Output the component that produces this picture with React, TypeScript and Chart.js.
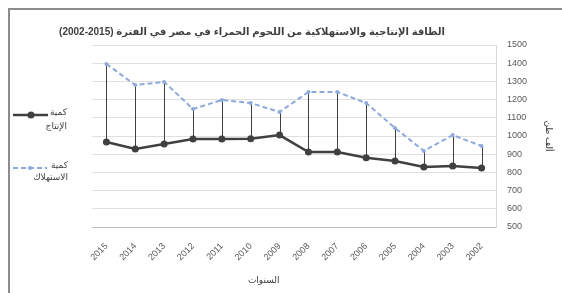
import React, { useEffect, useRef } from "react";
import { Chart, registerables } from "chart.js";

Chart.register(...registerables);

const years = ["2015", "2014", "2013", "2012", "2011", "2010", "2009", "2008", "2007", "2006", "2005", "2004", "2003", "2002"];
const production = [967, 929, 956, 983, 983, 985, 1005, 912, 912, 880, 863, 830, 835, 824];
const consumption = [1396, 1280, 1297, 1148, 1198, 1181, 1132, 1242, 1242, 1181, 1044, 918, 1005, 945];

const titleText = "الطاقة الإنتاجية والاستهلاكية من اللحوم الحمراء في مصر في الفترة (2015-2002)";
const productionLabel = ["كمية", "الإنتاج"];
const consumptionLabel = ["كمية", "الاستهلاك"];
const xTitle = "السنوات";
const yTitle = "ألف طن";

const FONT = "'Liberation Sans', 'DejaVu Sans', sans-serif";
const PROD_COLOR = "#404040";
const CONS_COLOR = "#8FAADC";

const dropLines = {
  id: "dropLines",
  beforeDatasetsDraw(chart: any) {
    const { ctx } = chart;
    const xs = chart.scales.x;
    const ys = chart.scales.y;
    ctx.save();
    ctx.strokeStyle = "#404040";
    ctx.lineWidth = 1;
    for (let i = 0; i < years.length; i++) {
      const x = Math.round(xs.getPixelForValue(i)) + 0.5;
      ctx.beginPath();
      ctx.moveTo(x, ys.getPixelForValue(consumption[i]));
      ctx.lineTo(x, ys.getPixelForValue(production[i]));
      ctx.stroke();
    }
    ctx.restore();
  },
};

const textLayer = {
  id: "textLayer",
  afterDraw(chart: any) {
    const { ctx, chartArea, scales } = chart;
    ctx.save();
    // title
    ctx.direction = "rtl";
    ctx.fillStyle = "#404040";
    ctx.font = "bold 10px " + FONT;
    ctx.textAlign = "center";
    ctx.textBaseline = "middle";
    ctx.fillText(titleText, 242, 22);
    // production legend entry
    ctx.strokeStyle = PROD_COLOR;
    ctx.lineWidth = 2.5;
    ctx.setLineDash([]);
    ctx.beginPath();
    ctx.moveTo(3, 105);
    ctx.lineTo(38, 105);
    ctx.stroke();
    ctx.fillStyle = PROD_COLOR;
    ctx.beginPath();
    ctx.arc(21, 105, 3.5, 0, Math.PI * 2);
    ctx.fill();
    // consumption legend entry
    ctx.strokeStyle = CONS_COLOR;
    ctx.lineWidth = 2;
    ctx.setLineDash([5, 3]);
    ctx.beginPath();
    ctx.moveTo(3, 158);
    ctx.lineTo(37, 158);
    ctx.stroke();
    ctx.setLineDash([]);
    ctx.fillStyle = CONS_COLOR;
    ctx.beginPath();
    ctx.arc(20, 158, 2, 0, Math.PI * 2);
    ctx.fill();
    // legend texts
    ctx.fillStyle = "#404040";
    ctx.font = "9px " + FONT;
    ctx.textAlign = "right";
    ctx.fillText(productionLabel[0], 57, 103);
    ctx.fillText(productionLabel[1], 57, 117);
    ctx.fillText(consumptionLabel[0], 58, 156);
    ctx.fillText(consumptionLabel[1], 58, 168);
    // x axis title
    ctx.textAlign = "center";
    ctx.fillText(xTitle, chartArea.left + (chartArea.right - chartArea.left) * 0.425, scales.x.bottom - 12);
    ctx.restore();
  },
};

export default function App() {
  const ref = useRef<HTMLCanvasElement>(null);
  useEffect(() => {
    if (!ref.current) return;
    const chart = new Chart(ref.current, {
      type: "line",
      data: {
        labels: years,
        datasets: [
          {
            label: productionLabel.join(" "),
            data: production,
            borderColor: PROD_COLOR,
            backgroundColor: PROD_COLOR,
            borderWidth: 2.5,
            pointRadius: 3.5,
            pointBackgroundColor: PROD_COLOR,
            pointBorderWidth: 0,
            tension: 0,
          },
          {
            label: consumptionLabel.join(" "),
            data: consumption,
            borderColor: CONS_COLOR,
            backgroundColor: CONS_COLOR,
            borderWidth: 2,
            borderDash: [5, 3],
            pointRadius: 2,
            pointBackgroundColor: CONS_COLOR,
            pointBorderWidth: 0,
            tension: 0,
          },
        ],
      },
      options: {
        responsive: false,
        animation: false,
        layout: { padding: { left: 82, top: 35, right: 0, bottom: 0 } },
        plugins: {
          legend: { display: false },
          tooltip: { enabled: false },
          title: { display: false },
        },
        scales: {
          x: {
            offset: true,
            grid: { display: false, drawTicks: false },
            border: { display: true, color: "#bfbfbf", width: 1 },
            ticks: {
              minRotation: 45,
              maxRotation: 45,
              padding: 14,
              color: "#595959",
              font: { family: FONT, size: 9 },
            },
            afterFit(scale: any) {
              scale.height = 66;
            },
          },
          y: {
            position: "right",
            min: 500,
            max: 1500,
            ticks: {
              stepSize: 100,
              padding: 11,
              color: "#595959",
              font: { family: FONT, size: 9 },
              callback: (v: any) => String(v),
            },
            grid: { color: "#e0e0e0", drawTicks: false },
            border: { display: true, color: "#d9d9d9" },
            title: {
              display: true,
              text: yTitle,
              color: "#404040",
              font: { family: FONT, size: 9 },
              padding: { top: 8, bottom: 8 },
            },
            afterFit(scale: any) {
              scale.width = 66;
            },
          },
        },
      },
      plugins: [dropLines, textLayer],
    });
    return () => chart.destroy();
  }, []);

  return (
    <div
      style={{
        position: "absolute",
        top: 8,
        left: 8,
        width: 554,
        height: 285,
        boxSizing: "border-box",
        borderTop: "2px solid #8c8c8c",
        borderLeft: "2px solid #8c8c8c",
        background: "#fff",
      }}
    >
      <canvas ref={ref} width={552} height={283} dir="rtl" style={{ display: "block", direction: "rtl" }} />
    </div>
  );
}
